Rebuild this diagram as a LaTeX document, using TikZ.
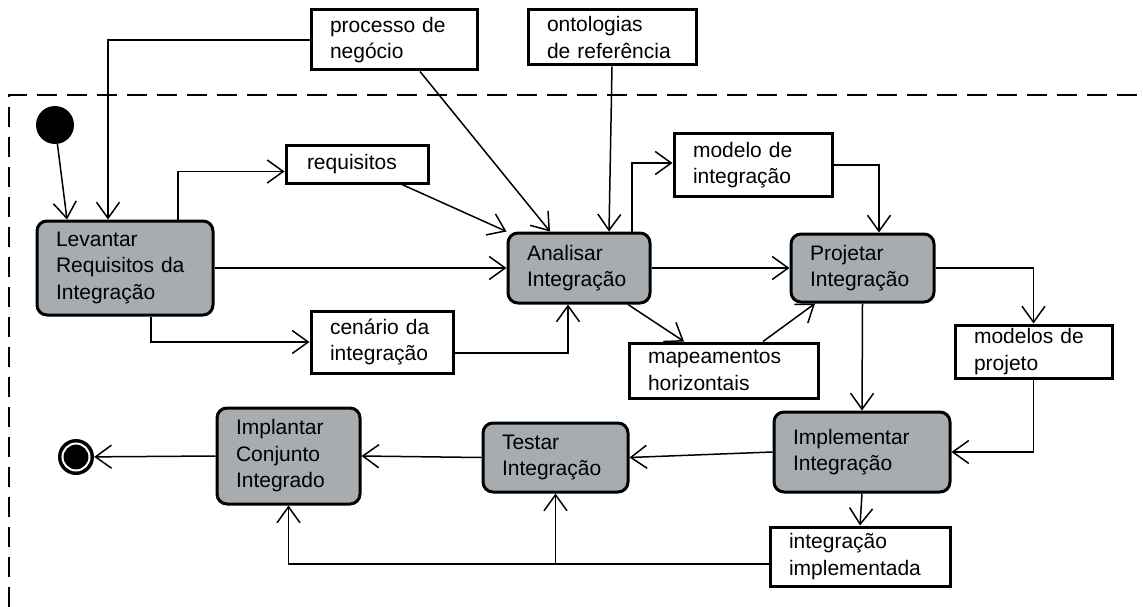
\documentclass[tikz,border=0pt]{standalone}
\usepackage{fontspec}
\setmainfont{Liberation Sans}
\usetikzlibrary{arrows.meta}
\definecolor{actgray}{RGB}{166,172,175}
\begin{document}
\begin{tikzpicture}[x=1pt,y=-1pt,
  font=\fontsize{21}{26.5}\selectfont,
  every node/.style={inner ysep=0pt, inner xsep=19pt, align=left},
  activity/.style n args={3}{draw, line width=3pt, rounded corners=10pt, fill=actgray,
      text width=#1, minimum width=#2, minimum height=#3},
  artifact/.style n args={3}{draw, line width=3pt, fill=white,
      text width=#1, minimum width=#2, minimum height=#3},
  arr/.style={line width=1.5pt, -{Straight Barb[length=16pt,width=23pt]}},
  frame/.style={line width=1.5pt, dash pattern=on 20pt off 10pt}]
\useasboundingbox (0,0) rectangle (1143,607);

% swimlane boundary
\draw[frame] (9,607) -- (9,95) -- (1143,95);

% activities
\node[activity={138pt}{176pt}{94pt}] (lev) at (125,268) {Levantar\\Requisitos da\\Integração};
\node[activity={104pt}{142pt}{70pt}] (ana) at (579,268) {Analisar\\Integração};
\node[activity={105pt}{143pt}{68pt}] (proj) at (862.5,268) {Projetar\\Integração};
\node[activity={138pt}{176pt}{80pt}] (impl) at (862,452) {Implementar\\Integração};
\node[activity={107pt}{145pt}{69pt}] (test) at (555.5,457.5) {Testar\\Integração};
\node[activity={105pt}{143pt}{96pt}] (implant) at (288.5,456) {Implantar\\Conjunto\\Integrado};

% artifacts
\node[artifact={128pt}{166pt}{60pt}] (proc) at (394,40) {processo de\\negócio};
\node[artifact={130pt}{168pt}{55pt}] (onto) at (612,37.5) {ontologias\\de referência};
\node[artifact={100pt}{142pt}{37pt}, inner xsep=21pt] (req) at (357,164.5) {requisitos};
\node[artifact={120pt}{158pt}{62pt}] (modint) at (753,165) {modelo de\\integração};
\node[artifact={104pt}{142pt}{62pt}] (cen) at (382,342) {cenário da\\integração};
\node[artifact={151pt}{189pt}{55pt}] (mapeam) at (723.5,370.5) {mapeamentos\\horizontais};
\node[artifact={119pt}{157pt}{53pt}] (modproj) at (1033.5,351.5) {modelos de\\projeto};
\node[artifact={142pt}{180pt}{59pt}] (intimp) at (860,556.5) {integração\\implementada};

% initial and final nodes
\node[circle, fill=black, minimum size=38pt, inner sep=0pt] (init) at (55,125) {};
\node[circle, fill=black, minimum size=36pt, inner sep=0pt] (fin) at (76,457) {};
\draw[white, line width=2pt] (fin.center) circle (13.5pt);

% control and object flows
\draw[arr] (init) -- ([xshift=-58pt]lev.north);
\draw[arr] (proc.west) -| ([xshift=-17pt]lev.north);
\draw[arr] ([xshift=53pt]lev.north) |- ([yshift=-7pt]req.west);
\draw[arr] ([xshift=45pt]req.south) -- (ana.north west);
\draw[arr] ([xshift=26pt]proc.south) -- ([xshift=-29pt]ana.north);
\draw[arr] (onto.south) -- ([xshift=30pt]ana.north);
\draw[arr] (lev.east) -- (ana.west);
\draw[arr] ([xshift=26pt]lev.south) |- (cen.west);
\draw[arr] ([yshift=-11pt]cen.east) -| ([xshift=-11pt]ana.south);
\draw[arr] ([xshift=53pt]ana.north) |- ([yshift=2pt]modint.west);
\draw[arr] (modint.east) -| ([xshift=16.5pt]proj.north);
\draw[arr] (ana.east) -- (proj.west);
\draw[arr] ([xshift=49pt]ana.south) -- ([xshift=-39.5pt]mapeam.north);
\draw[arr] ([xshift=39.5pt]mapeam.north) -- ([xshift=-47.5pt]proj.south);
\draw[arr] (proj.east) -| (modproj.north);
\draw[arr] (modproj.south) |- (impl.east);
\draw[arr] (proj.south) -- (impl.north);
\draw[arr] (impl.west) -- (test.east);
\draw[arr] (impl.south) -- (intimp.north);
\path ([yshift=-7.5pt]intimp.west) coordinate (iw);
\coordinate (j) at (test.south |- iw);
\draw[arr] (iw) -| (implant.south);
\draw[arr] (j) -- (test.south);
\draw[arr] (test.west) -- (implant.east);
\draw[arr] (implant.west) -- (fin);
\end{tikzpicture}
\end{document}
